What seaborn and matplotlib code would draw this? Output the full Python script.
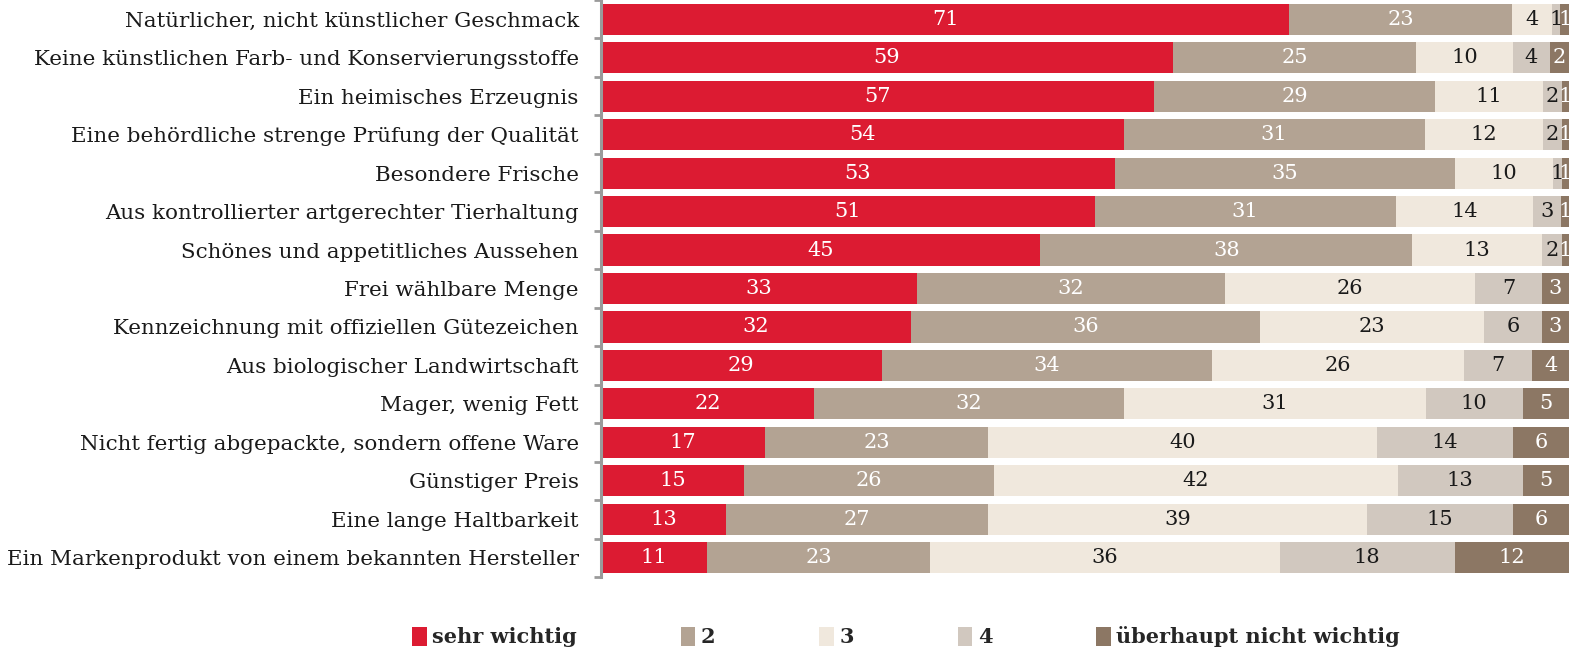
import matplotlib
matplotlib.use("Agg")
import matplotlib.pyplot as plt
from matplotlib.patches import Patch
from matplotlib.ticker import FixedLocator
import numpy as np
import pandas as pd
import seaborn as sns

categories = [
    "Natürlicher, nicht künstlicher Geschmack",
    "Keine künstlichen Farb- und Konservierungsstoffe",
    "Ein heimisches Erzeugnis",
    "Eine behördliche strenge Prüfung der Qualität",
    "Besondere Frische",
    "Aus kontrollierter artgerechter Tierhaltung",
    "Schönes und appetitliches Aussehen",
    "Frei wählbare Menge",
    "Kennzeichnung mit offiziellen Gütezeichen",
    "Aus biologischer Landwirtschaft",
    "Mager, wenig Fett",
    "Nicht fertig abgepackte, sondern offene Ware",
    "Günstiger Preis",
    "Eine lange Haltbarkeit",
    "Ein Markenprodukt von einem bekannten Hersteller",
]
series = ["sehr wichtig", "2", "3", "4", "überhaupt nicht wichtig"]
# shares in % (labels show them rounded)
sehr_wichtig = [71.1, 59.1, 57.1, 54.0, 53.1, 51.0, 45.4, 32.6, 32.0, 29.0, 22.0, 16.9, 14.8, 12.9, 11.0]
stufe_2 = [23.0, 25.1, 29.1, 31.1, 35.1, 31.1, 38.4, 31.9, 36.1, 34.1, 32.0, 23.1, 25.8, 27.1, 23.0]
stufe_3 = [4.1, 10.0, 11.1, 12.2, 10.1, 14.2, 13.4, 25.8, 23.1, 26.1, 31.2, 40.2, 41.7, 39.1, 36.1]
stufe_4 = [0.9, 3.8, 2.0, 2.0, 1.0, 2.9, 2.1, 6.9, 6.0, 7.0, 10.0, 14.0, 12.9, 15.1, 18.1]
nicht_wichtig = [0.9, 2.0, 0.7, 0.7, 0.7, 0.8, 0.7, 2.8, 2.8, 3.8, 4.8, 5.8, 4.8, 5.8, 11.8]

colors = ["#DC1B32", "#B3A393", "#F0E8DD", "#D1C8BF", "#8C7764"]
text_colors = ["white", "white", "#1a1a1a", "#1a1a1a", "white"]

values = np.array([sehr_wichtig, stufe_2, stufe_3, stufe_4, nicht_wichtig])
cum = values.cumsum(axis=0)

sns.set_style("white")
plt.rcParams["font.family"] = ["DejaVu Serif"]

fig = plt.figure(figsize=(15.69, 6.52), dpi=100)
ax = fig.add_axes([601 / 1569, 1 - 577 / 652, 1 - 601 / 1569, 577 / 652])

# layered: draw widest cumulative bar first so segments show through
for i in range(len(series) - 1, -1, -1):
    df = pd.DataFrame({"Kategorie": categories, "Wert": cum[i]})
    sns.barplot(data=df, x="Wert", y="Kategorie", order=categories,
                color=colors[i], saturation=1, width=0.81, linewidth=0, ax=ax)

for i in range(len(series)):
    for j, cat in enumerate(categories):
        v = values[i, j]
        center = cum[i, j] - v / 2
        ax.text(center, j, f"{v:.0f}", ha="center", va="center",
                fontsize=15, color=text_colors[i], clip_on=True)

n = len(categories)
ax.set_xlim(0, 100)
ax.set_ylim(n - 0.5, -0.5)
ax.set_xlabel("")
ax.set_ylabel("")
ax.set_xticks([])
for s in ["top", "right", "bottom"]:
    ax.spines[s].set_visible(False)
ax.spines["left"].set_color("#9a9a9a")
ax.spines["left"].set_linewidth(2.2)
ax.yaxis.set_minor_locator(FixedLocator(np.arange(n + 1) - 0.5))
ax.tick_params(axis="y", which="major", length=0, pad=16, labelsize=15.4,
               labelcolor="#1a1a1a")
ax.tick_params(axis="y", which="minor", length=5, width=2, color="#9a9a9a",
               left=True)

handles = [Patch(facecolor=c, edgecolor="none") for c in colors]
fig.legend(handles, series, loc="center", bbox_to_anchor=(0.5775, 1 - 637 / 652),
           ncol=5, frameon=False, handlelength=0.7, handleheight=1.0,
           handletextpad=0.25, columnspacing=5.0,
           prop={"weight": "bold", "size": 15})

fig.savefig("out.png", dpi=100)
